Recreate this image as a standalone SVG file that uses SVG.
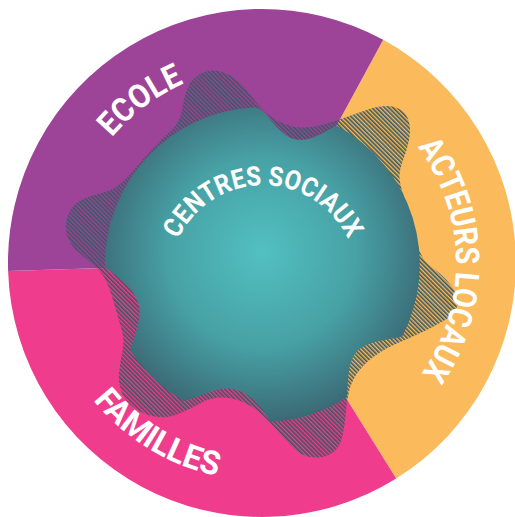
<svg xmlns="http://www.w3.org/2000/svg" width="515" height="517" viewBox="0 0 515 517">
<defs>
<style>
.lbl{font-family:Roboto,"Liberation Sans",sans-serif;font-weight:700;fill:#ffffff;}
</style>
<pattern id="hatch" width="3" height="10" patternUnits="userSpaceOnUse" patternTransform="rotate(-45)">
<rect width="1.6" height="10" fill="#3A5862"/>
</pattern>
<radialGradient id="teal" gradientUnits="userSpaceOnUse" cx="262" cy="252" r="172">
<stop offset="0" stop-color="#52C0C1"/>
<stop offset="0.55" stop-color="#47A1A5"/>
<stop offset="1" stop-color="#3B6874"/>
</radialGradient>
<path id="arcEcole" d="M67.8,286.2 A195.6,195.6 0 0 1 339,83.2"/>
<path id="arcActeurs" d="M258.6,69 A194,194 0 0 1 265.4,457"/>
<path id="arcFamilles" d="M44.6,257.7 A217.5,217.5 0 0 0 366.1,454"/>
<path id="arcCentres" d="M169.2,279 A93.8,93.8 0 0 1 356.8,279"/>
</defs>

<g id="sectors">
<path id="sector-acteurs" d="M262,263 L383.2,39.8 A254,254 0 0 1 396.2,478.6 Z" fill="#FBBA5C"/>
<path id="sector-familles" d="M262,263 L396.2,478.6 A254,254 0 0 1 8.1,271 Z" fill="#F03C8C"/>
<path id="sector-ecole" d="M262,263 L8.1,271 A254,254 0 0 1 383.2,39.8 Z" fill="#9D4499"/>
</g>

<g id="gear">
<path fill="url(#hatch)" d="M176.5,124 Q181,118 182.5,107 Q184,96 188,87 Q192,78 201,73.5 Q210,69 220,71.5 Q230,74 238,81 Q246,88 252,96.5 Q258,105 264,111 Q270,117 280,122 Q290,127 301,127.5 Q312,128 323.5,124.5 Q335,121 346.5,117 Q358,113 368,109.5 Q378,106 386.5,106 Q395,106 401,110 Q407,114 409,122 Q411,130 409,140 Q407,150 403.5,159 Q400,168 399.5,175 Q399,182 403,193.5 Q407,205 411,220 Q415,235 418.5,247.5 Q422,260 431,266.5 Q440,273 446.5,280 Q453,287 456.5,294.5 Q460,302 456,309 Q452,316 442.5,321.5 Q433,327 422.5,332 Q412,337 400,342 Q388,347 377.5,354 Q367,361 360,369.5 Q353,378 350,388 Q347,398 346,411.5 Q345,425 342.5,436 Q340,447 333.5,452 Q327,457 318.5,457.5 Q310,458 303.5,455 Q297,452 290,444.5 Q283,437 276.5,429.5 Q270,422 262.5,415 Q255,408 245,403 Q235,398 223.5,397.5 Q212,397 202,402.5 Q192,408 181,413 Q170,418 159,417 Q148,416 138,410.5 Q128,405 123,395 Q118,385 119,373.5 Q120,362 122.5,351 Q125,340 121.5,329 Q118,318 115,306.5 Q112,295 108,285 Q104,275 96,267.5 Q88,260 80,253.5 Q72,247 68.5,239.5 Q65,232 66,223.5 Q67,215 71.5,208.5 Q76,202 84.5,198.5 Q93,195 103,192.5 Q113,190 120.5,183.5 Q128,177 135.5,168 Q143,159 152,149.5 Q161,140 166.5,135 Q172,130 176.5,124 Z"/>
</g>

<g id="centres-sociaux">
<path fill="url(#teal)" d="M255.6,107.2 C268,111 277,134 294,139 C310,143 324,132 336.5,125.5 A157.5,157.5 0 0 1 402,337 C385,340 360,342 353,357 C347,370 348,385 347.1,397.3 A157.5,157.5 0 0 1 270.7,421.8 C260,405 250,392 232,389 C215,386 200,398 183.75,400.9 A157.5,157.5 0 0 1 130.4,350.3 C134,338 142,318 139,305 C134,288 118,276 105,268.1 A157.5,157.5 0 0 1 255.6,107.2 Z"/>
<text class="lbl" font-size="27"><textPath href="#arcCentres" startOffset="50%" text-anchor="middle" textLength="212" lengthAdjust="spacingAndGlyphs">CENTRES SOCIAUX</textPath></text>
</g>

<g id="labels">
<text id="label-ecole" class="lbl" font-size="33"><textPath href="#arcEcole" startOffset="50%" text-anchor="middle" textLength="91" lengthAdjust="spacingAndGlyphs">ECOLE</textPath></text>
<text id="label-acteurs" class="lbl" font-size="33"><textPath href="#arcActeurs" startOffset="50%" text-anchor="middle" textLength="242" lengthAdjust="spacingAndGlyphs">ACTEURS LOCAUX</textPath></text>
<text id="label-familles" class="lbl" font-size="33"><textPath href="#arcFamilles" startOffset="50%" text-anchor="middle" textLength="148" lengthAdjust="spacingAndGlyphs">FAMILLES</textPath></text>
</g>
</svg>
